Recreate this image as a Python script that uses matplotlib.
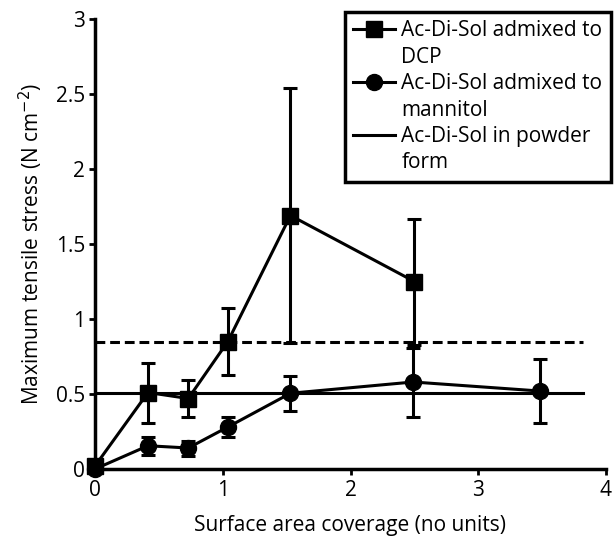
import matplotlib
matplotlib.use("Agg")
import matplotlib.pyplot as plt
from matplotlib.lines import Line2D

plt.rcParams['font.family'] = ['Open Sans', 'DejaVu Sans']

# DCP series
dcp_x = [0.0, 0.415, 0.73, 1.04, 1.53, 2.5]
dcp_y = [0.02, 0.51, 0.47, 0.85, 1.69, 1.25]
dcp_err = [0.0, 0.20, 0.125, 0.225, 0.85, 0.42]

# mannitol series
man_x = [0.0, 0.415, 0.73, 1.04, 1.53, 2.49, 3.48]
man_y = [0.0, 0.155, 0.14, 0.28, 0.505, 0.58, 0.52]
man_err = [0.0, 0.06, 0.05, 0.065, 0.115, 0.23, 0.215]

powder_mean = 0.51
powder_upper = 0.845
line_end_x = 3.82

xticks = [0, 1, 2, 3, 4]
yticks = [0, 0.5, 1, 1.5, 2, 2.5, 3]
yticklabels = ['0', '0.5', '1', '1.5', '2', '2.5', '3']

fig = plt.figure(figsize=(6.15, 5.39), dpi=100)
ax = fig.add_axes([95/615, 1-469/539, (606-95)/615, (469-19)/539])

lw = 2.2
fs = 15
ax.plot([0, line_end_x], [powder_upper, powder_upper], color='black', lw=lw, ls=(0, (3.2, 1.6)), zorder=2)
ax.plot([0, line_end_x], [powder_mean, powder_mean], color='black', lw=lw, zorder=2)

ax.errorbar(dcp_x, dcp_y, yerr=dcp_err, color='black', lw=lw, marker='s', ms=11,
            capsize=5, capthick=lw, elinewidth=lw, clip_on=False, zorder=4)
ax.errorbar(man_x, man_y, yerr=man_err, color='black', lw=lw, marker='o', ms=11.5,
            capsize=5, capthick=lw, elinewidth=lw, clip_on=False, zorder=4)

ax.set_xlim(0, 4)
ax.set_ylim(0, 3)
ax.set_xticks(xticks)
ax.set_xticklabels([str(t) for t in xticks])
ax.set_yticks(yticks)
ax.set_yticklabels(yticklabels)
for s in ['top', 'right']:
    ax.spines[s].set_visible(False)
for s in ['left', 'bottom']:
    ax.spines[s].set_linewidth(2.5)
ax.tick_params(axis='both', width=2, length=4, labelsize=fs, direction='out')
ax.tick_params(axis='x', pad=4)
ax.tick_params(axis='y', pad=3)
ax.set_xlabel('Surface area coverage (no units)', fontsize=fs, labelpad=10)
ax.set_ylabel('Maximum tensile stress (N cm$^{-2}$)', fontsize=fs, labelpad=8)

blank = Line2D([], [], color='none')
handles = [
    Line2D([], [], color='black', lw=lw, marker='s', ms=11), blank,
    Line2D([], [], color='black', lw=lw, marker='o', ms=11.5), blank,
    Line2D([], [], color='black', lw=lw), blank,
]
labels = ['Ac-Di-Sol admixed to', 'DCP', 'Ac-Di-Sol admixed to', 'mannitol',
          'Ac-Di-Sol in powder', 'form']
leg = fig.legend(handles, labels, loc='upper left', bbox_to_anchor=(345/615, 1-12/539),
                 fontsize=fs, frameon=True, fancybox=False, edgecolor='black', framealpha=1,
                 handlelength=2.0, handletextpad=0.3, borderpad=0.4, labelspacing=0.26,
                 borderaxespad=0)
leg.get_frame().set_linewidth(2.5)

fig.savefig('out.png', dpi=100)
